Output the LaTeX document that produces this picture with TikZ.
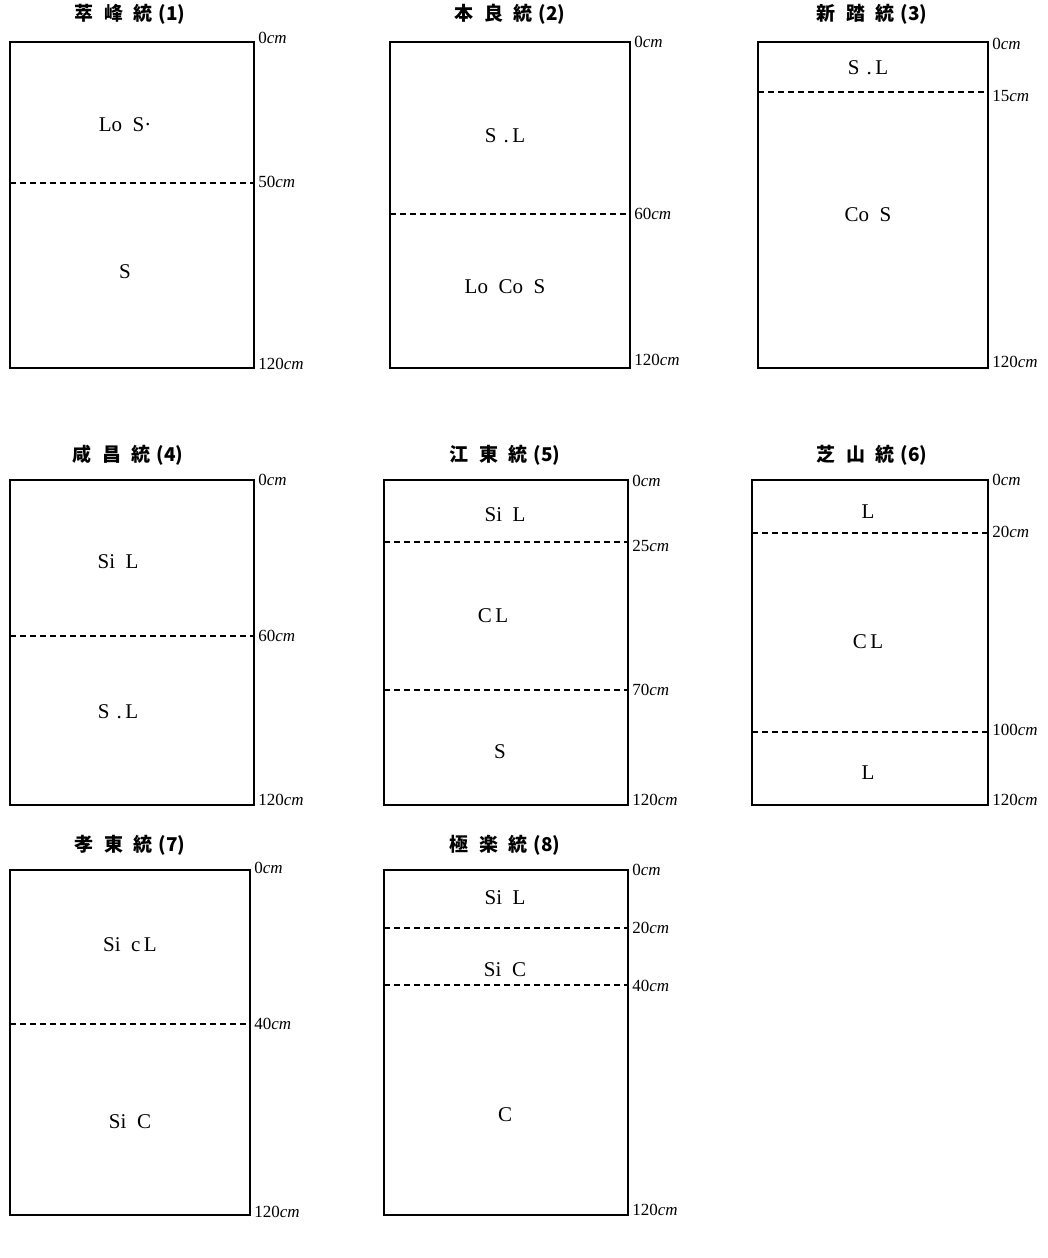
\documentclass[tikz,border=0pt]{standalone}
\usepackage{fontspec}
\setmainfont{Liberation Serif}
\newfontfamily\cjk{Noto Sans CJK JP}
\newcommand{\gp}{\hskip0.55em}
\begin{document}
\begin{tikzpicture}[
  x=0.5pt, y=-0.5pt,
  profile/.style={draw, line width=0.8pt},
  horizon/.style={line width=0.6pt, dash pattern=on 3pt off 2pt},
  layer/.style={font=\fontsize{10.5}{12}\selectfont},
  depth/.style={anchor=west, inner sep=1pt, font=\fontsize{8.5}{10}\selectfont},
  title/.style={font=\cjk\bfseries\fontsize{9.5}{11}\selectfont}
]
\useasboundingbox (0,0) rectangle (1048,1258);

% row 1
\node[title] (t1) at (130,14) {萃\gp{}峰\gp{}統\hskip0.3em(1)};
\draw[profile] (10,42) rectangle (254,368);
\draw[horizon] (10,183) -- (254,183);
\node[layer] (l1a) at (125,125) {Lo\ \ S·};
\node[layer] (l1b) at (125,272) {S};
\node[depth] (d1a) at (256,38) {0\textit{cm}};
\node[depth] (d1b) at (256,182) {50\textit{cm}};
\node[depth] (d1c) at (256,364) {120\textit{cm}};

\node[title] (t2) at (510,14) {本\gp{}良\gp{}統\hskip0.3em(2)};
\draw[profile] (390,42) rectangle (630,368);
\draw[horizon] (390,214) -- (630,214);
\node[layer] (l2a) at (505,136) {S\,\,.\,L};
\node[layer] (l2b) at (505,287) {Lo\ \ Co\ \ S};
\node[depth] (d2a) at (632,42) {0\textit{cm}};
\node[depth] (d2b) at (632,214) {60\textit{cm}};
\node[depth] (d2c) at (632,360) {120\textit{cm}};

\node[title] (t3) at (872,14) {新\gp{}踏\gp{}統\hskip0.3em(3)};
\draw[profile] (758,42) rectangle (988,368);
\draw[horizon] (758,92) -- (988,92);
\node[layer] (l3a) at (868,68) {S\,\,.\,L};
\node[layer] (l3b) at (868,215) {Co\ \ S};
\node[depth] (d3a) at (990,44) {0\textit{cm}};
\node[depth] (d3b) at (990,96) {15\textit{cm}};
\node[depth] (d3c) at (990,362) {120\textit{cm}};

% row 2
\node[title] (t4) at (128,455) {咸\gp{}昌\gp{}統\hskip0.3em(4)};
\draw[profile] (10,480) rectangle (254,805);
\draw[horizon] (10,636) -- (254,636);
\node[layer] (l4a) at (118,562) {Si\ \ L};
\node[layer] (l4b) at (118,712) {S\,\,.\,L};
\node[depth] (d4a) at (256,480) {0\textit{cm}};
\node[depth] (d4b) at (256,636) {60\textit{cm}};
\node[depth] (d4c) at (256,800) {120\textit{cm}};

\node[title] (t5) at (505,455) {江\gp{}東\gp{}統\hskip0.3em(5)};
\draw[profile] (384,480) rectangle (628,805);
\draw[horizon] (384,542) -- (628,542);
\draw[horizon] (384,690) -- (628,690);
\node[layer] (l5a) at (505,515) {Si\ \ L};
\node[layer] (l5b) at (493,616) {C\,L};
\node[layer] (l5c) at (500,752) {S};
\node[depth] (d5a) at (630,481) {0\textit{cm}};
\node[depth] (d5b) at (630,546) {25\textit{cm}};
\node[depth] (d5c) at (630,690) {70\textit{cm}};
\node[depth] (d5d) at (630,800) {120\textit{cm}};

\node[title] (t6) at (872,455) {芝\gp{}山\gp{}統\hskip0.3em(6)};
\draw[profile] (752,480) rectangle (988,805);
\draw[horizon] (752,533) -- (988,533);
\draw[horizon] (752,732) -- (988,732);
\node[layer] (l6a) at (868,512) {L};
\node[layer] (l6b) at (868,642) {C\,L};
\node[layer] (l6c) at (868,773) {L};
\node[depth] (d6a) at (990,480) {0\textit{cm}};
\node[depth] (d6b) at (990,532) {20\textit{cm}};
\node[depth] (d6c) at (990,730) {100\textit{cm}};
\node[depth] (d6d) at (990,800) {120\textit{cm}};

% row 3
\node[title] (t7) at (130,845) {孝\gp{}東\gp{}統\hskip0.3em(7)};
\draw[profile] (10,870) rectangle (250,1215);
\draw[horizon] (10,1024) -- (250,1024);
\node[layer] (l7a) at (130,945) {Si\ \ c\,L};
\node[layer] (l7b) at (130,1122) {Si\ \ C};
\node[depth] (d7a) at (252,868) {0\textit{cm}};
\node[depth] (d7b) at (252,1024) {40\textit{cm}};
\node[depth] (d7c) at (252,1212) {120\textit{cm}};

\node[title] (t8) at (505,845) {極\gp{}楽\gp{}統\hskip0.3em(8)};
\draw[profile] (384,870) rectangle (628,1215);
\draw[horizon] (384,928) -- (628,928);
\draw[horizon] (384,985) -- (628,985);
\node[layer] (l8a) at (505,898) {Si\ \ L};
\node[layer] (l8b) at (505,970) {Si\ \ C};
\node[layer] (l8c) at (505,1115) {C};
\node[depth] (d8a) at (630,870) {0\textit{cm}};
\node[depth] (d8b) at (630,928) {20\textit{cm}};
\node[depth] (d8c) at (630,986) {40\textit{cm}};
\node[depth] (d8d) at (630,1210) {120\textit{cm}};
\end{tikzpicture}
\end{document}
